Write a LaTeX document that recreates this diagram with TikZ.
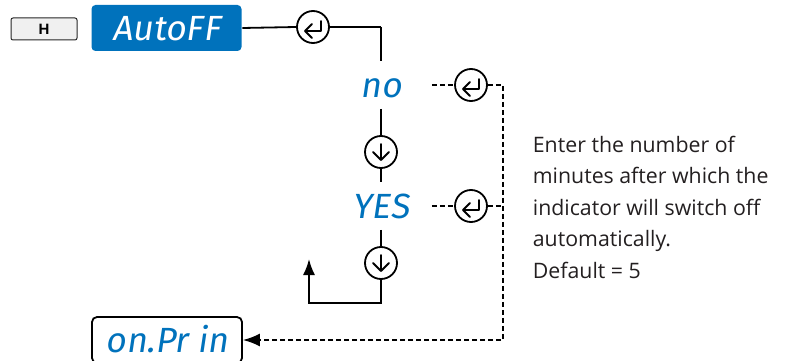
\documentclass[tikz,border=0pt]{standalone}
\usepackage{fontspec}
\setmainfont{Open Sans}
\newfontfamily\segfont[FakeSlant=0.15]{Fira Sans}
\newfontfamily\keyfont{Liberation Sans}
\usetikzlibrary{arrows.meta}
\definecolor{displaycolor}{RGB}{0, 114, 188}
\definecolor{keycolor}{RGB}{240, 240, 240}
\definecolor{labelcolor}{RGB}{35, 31, 32}

\begin{document}
\begin{tikzpicture}[
    x=1pt, y=-1pt,
    line width=1.8pt,
    % Estilos
    hkey/.style={
        rectangle, rounded corners=2pt,
        draw=black!85, line width=1pt, fill=keycolor,
        minimum width=66pt, minimum height=22pt, inner sep=0pt,
        font=\keyfont\fontsize{15}{15}\selectfont\bfseries
    },
    display/.style={
        rectangle, rounded corners=4pt,
        minimum width=150pt, minimum height=46pt, inner sep=0pt,
        font=\segfont\fontsize{35}{35}\selectfont,
        text height=25pt, text depth=0pt
    },
    value/.style={
        display, minimum width=100pt, text=displaycolor
    },
    enterkey/.style={
        circle, draw, fill=white, minimum size=32pt, inner sep=0pt,
        path picture={
            \draw[line width=1.8pt, line cap=round, line join=round,
                  shift={(path picture bounding box.center)}]
                (8,-6) -- (8,4) -- (-8,4)
                (-1,-3) -- (-8,4) -- (-1,11);
        }
    },
    downkey/.style={
        circle, draw, fill=white, minimum size=32pt, inner sep=0pt,
        path picture={
            \draw[line width=1.8pt, line cap=round, line join=round,
                  shift={(path picture bounding box.center)}]
                (0,-8) -- (0,8)
                (-8,0) -- (0,8) -- (8,0);
        }
    },
    flowline/.style={draw=black, line width=1.8pt},
    flowarrow/.style={-{Latex[length=16pt, width=12pt]}, flowline},
    dashline/.style={draw=black, line width=1.8pt, dash pattern=on 5pt off 3pt},
    dasharrow/.style={-{Latex[length=17pt, width=13pt]}, dashline},
    infotext/.style={
        align=left, inner sep=0pt, text=labelcolor,
        font=\fontsize{21.3}{31.5}\selectfont
    }
]
\useasboundingbox (0,0) rectangle (793,361);

% ============================================================================
% MENU
% ============================================================================
\node[hkey] (hbtn) at (44, 29) {H};
\node[display, fill=displaycolor, text=white] (autoff) at (166.5, 28) {AutoFF};
\node[enterkey] (ent1) at (313, 27) {};
\coordinate (corner) at (381, 27);

\draw[flowline] (autoff.east) -- (ent1.west);
\draw[flowline] (ent1.east) -- (corner);

% ============================================================================
% VALORES
% ============================================================================
\node[value] (vno) at (381, 85) {no};
\node[downkey] (dn1) at (381, 152) {};
\node[value] (vyes) at (381, 206) {YES};
\node[downkey] (dn2) at (381, 263) {};

\draw[flowline] (corner) -- (vno.north);
\draw[flowline] (vno.south) -- (dn1.north);
\draw[flowline] (dn1.south) -- (vyes.north);
\draw[flowline] (vyes.south) -- (dn2.north);

% Retorno
\coordinate (loopc) at (381, 303);
\coordinate (loopend) at (309, 259);
\draw[flowarrow] (dn2.south) -- (loopc) -| (loopend);

% ============================================================================
% CONFIRMACAO
% ============================================================================
\node[enterkey] (ent2) at (471, 85) {};
\node[enterkey] (ent3) at (471, 206) {};
\coordinate (rside) at (503, 85);

\node[display, draw, fill=white, text=displaycolor,
      rounded corners=5pt, line width=1.8pt] (onprin) at (167, 340) {on.Pr in};

\draw[dashline] (vno.east) -- (ent2.west);
\draw[dashline] (vyes.east) -- (ent3.west);
\draw[dashline] (ent3.east) -- (ent3.east -| rside);
\draw[dasharrow] (ent2.east) -- (rside) |- (onprin.east);

% ============================================================================
% TEXTO
% ============================================================================
\node[infotext, anchor=north west] (info) at (532, 135)
    {Enter the number of\\
     minutes after which the\\
     indicator will switch off\\
     automatically.\\
     Default = 5};

\end{tikzpicture}
\end{document}
